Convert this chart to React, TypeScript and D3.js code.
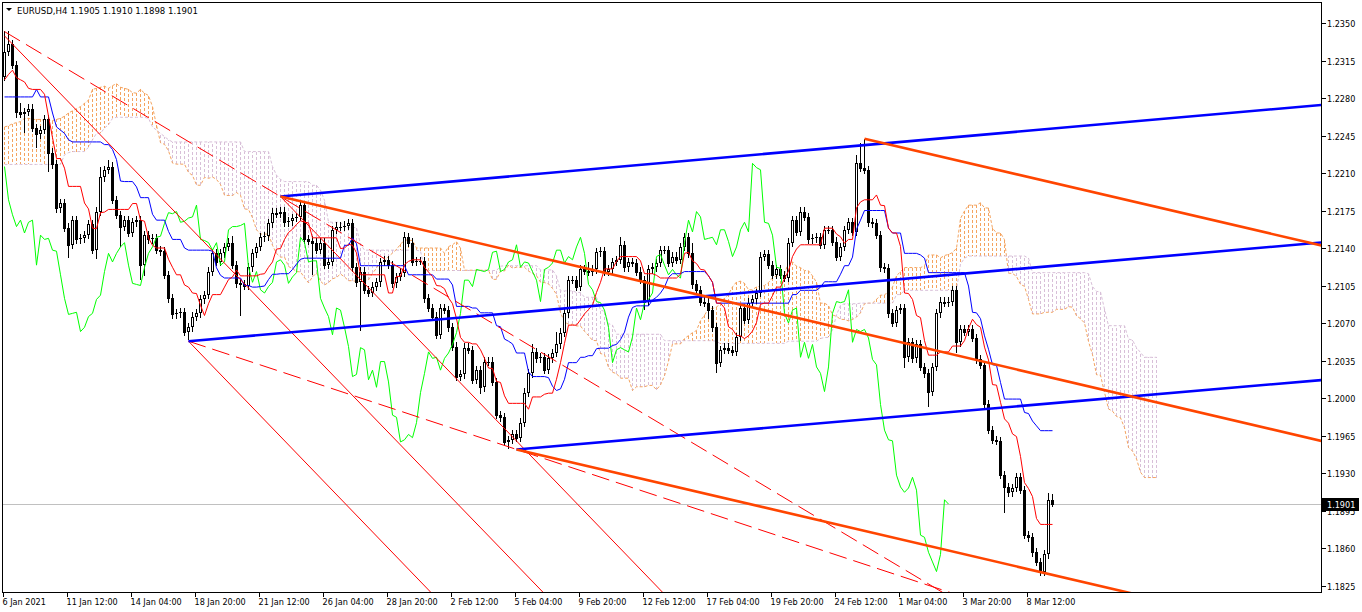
import React, { useEffect } from "react";
import * as d3 from "d3";

// ---------- DATA (prices in 1/10000) ----------
const firstOpen = 12300;
const closes = [
  12323,12330,12311,12267,12265,12267,12270,12252,12246,12250,
  12260,12229,12218,12177,12182,12159,12143,12166,12148,12149,
  12152,12162,12138,12174,12206,12213,12216,12185,12171,12160,
  12166,12154,12164,12166,12124,12152,12148,12149,12138,12137,
  12115,12093,12078,12079,12080,12062,12066,12076,12079,12092,
  12096,12118,12135,12127,12135,12141,12145,12124,12107,12106,
  12105,12122,12135,12141,12150,12151,12163,12173,12172,12174,
  12164,12165,12168,12169,12180,12148,12147,12145,12138,12145,
  12124,12127,12157,12160,12160,12161,12163,12122,12108,12118,
  12101,12098,12104,12108,12127,12129,12124,12107,12113,12117,
  12150,12145,12127,12128,12128,12093,12084,12076,12059,12084,
  12082,12066,12048,12020,12022,12047,12045,12017,12026,12010,
  12034,12034,12015,11984,11982,11959,11961,11966,11963,11977,
  12005,12023,12043,12037,12038,12026,12037,12042,12050,12061,
  12079,12110,12110,12104,12120,12119,12118,12120,12136,12137,
  12118,12120,12127,12129,12143,12122,12127,12126,12118,12110,
  12090,12120,12122,12126,12138,12138,12126,12132,12129,12141,
  12150,12135,12106,12101,12090,12089,12082,12066,12033,12045,
  12047,12045,12043,12057,12084,12073,12089,12092,12098,12132,
  12134,12124,12115,12120,12115,12112,12145,12166,12155,12174,
  12169,12148,12149,12150,12143,12157,12157,12146,12132,12141,
  12157,12164,12155,12219,12215,12213,12164,12163,12152,12122,
  12121,12079,12070,12082,12084,12038,12052,12037,12050,12029,
  12023,12006,12029,12079,12090,12089,12090,12101,12052,12064,
  12062,12064,12056,12036,12031,11994,11970,11961,11960,11928,
  11917,11912,11916,11926,11914,11872,11870,11856,11847,11838,
  11854,11905,11901,
];
const upperWick = [
  20,13,4,4,8,4,4,4,4,4, 4,4,4,4,4,4,4,4,4,4, 4,4,4,4,10,4,6,4,4,4,
  4,4,4,4,4,4,4,4,4,4, 4,4,4,4,4,4,4,4,4,4, 4,4,4,4,4,4,4,6,4,4,
  4,4,4,4,4,4,4,4,4,4, 4,4,4,4,4,4,4,4,4,4, 4,4,4,4,4,4,4,4,4,4,
  4,4,4,4,4,4,4,4,4,4, 5,4,4,4,4,4,4,4,4,4, 4,4,4,4,4,4,4,4,4,4,
  4,4,4,4,4,4,4,4,4,4, 4,4,7,4,4,4,4,4,12,4, 4,4,4,4,4,4,8,4,4,4,
  4,4,4,4,7,4,4,4,4,4, 4,4,4,4,4,4,4,4,4,4, 4,4,10,4,4,4,4,4,4,4,
  4,4,4,4,4,4,4,4,4,4, 4,4,4,4,4,4,4,4,4,4, 4,4,4,4,4,4,4,4,4,4,
  4,4,4,8,19,27,4,4,4,4, 4,4,4,4,4,4,4,4,4,4, 4,4,4,4,4,4,4,4,4,4,
  4,4,4,4,4,4,4,4,4,4, 4,4,4,4,4,4,4,4,4,4, 4,6,5,
];
const lowerWick = [
  4,4,4,6,4,18,4,4,13,4, 4,18,4,4,4,4,12,4,4,4, 4,4,4,8,4,4,4,4,4,19,
  4,4,4,4,14,10,4,4,4,4, 4,4,4,4,4,4,8,4,4,4, 4,4,4,4,4,4,4,4,4,29,
  4,4,4,4,4,4,4,4,4,4, 4,4,4,4,4,4,4,30,4,4, 4,4,4,4,4,4,4,4,4,45,
  4,4,4,4,4,4,4,4,4,4, 4,4,4,4,4,4,4,4,4,4, 4,4,4,4,4,4,4,4,4,6,
  4,4,4,4,4,4,7,4,4,4, 4,4,4,4,4,4,4,4,4,4, 4,4,4,4,4,4,4,4,4,4,
  4,4,4,4,4,4,4,4,4,4, 8,4,4,4,4,4,4,4,4,4, 4,4,4,4,4,4,8,4,10,4,
  4,4,4,4,4,4,4,4,4,4, 4,4,4,4,4,4,4,4,4,4, 4,4,4,4,4,4,4,4,4,4,
  4,4,4,4,4,4,4,4,4,4, 4,4,4,4,4,10,4,4,4,4, 4,14,4,4,4,4,4,4,10,4,
  4,4,4,4,4,4,4,4,4,4, 24,4,4,4,4,4,4,4,4,4, 4,4,3,
];
// Ichimoku values before the visible history is long enough
const tenkanEarly = [12297,12302,12306,12299,12297,12295,12289,12288];
const kijunEarly = [12281,12281,12281,12281,12281,12281,12281,12281,12288,12281,12281,12281,
  12266,12253,12250,12247,12241,12239,12239,12239,12239,12239,12239,12239,12239];
const spanAEarly = [12253,12254,12256,12257,12258,12261,12261,12260,12260,12260,12259,12259,12259,
  12260,12261,12263,12266,12268,12270,12272,12275,12278,12288,12289,12290,12291];
const spanBEarly = [
  12218,12218,12218,12218,12218,12218,12218,12218,12218,12218,12218,12218,12218,12218,12218,
  12227,12229,12230,12230,12230,12230,12234,12241,12247,12247,12252,12255,12261,
  12262,12262,12262,12262,12262,12262,12262,12262,12261,12253,12250,12247,12244,12241,
  12239,12239,12239,12239,12239,12239,12239,12239,12239,12239,12239,12239,12239,12239,12239,12239,12239,12239,
  12230,12230,12230,12230,12230,12230,12230,12216,12208,12204,
  12202,12202,12202,12202,12202,12202,12202,
];
const timeLabels = ["6 Jan 2021","11 Jan 12:00","14 Jan 04:00","18 Jan 20:00","21 Jan 12:00","26 Jan 04:00",
  "28 Jan 20:00","2 Feb 12:00","5 Feb 04:00","9 Feb 20:00","12 Feb 12:00","17 Feb 04:00","19 Feb 20:00",
  "24 Feb 12:00","1 Mar 04:00","3 Mar 20:00","8 Mar 12:00"];
const timeLabelBars = [0,16,32,48,64,80,96,112,128,144,160,176,192,208,224,240,256];
const priceTicks = [1.2350,1.2315,1.2280,1.2245,1.2210,1.2175,1.2140,1.2105,1.2070,1.2035,1.2000,
  1.1965,1.1930,1.1895,1.1860,1.1825];
const lastPrice = 1.1901;
const symbol = "EURUSD,H4";
const ohlcText = "1.1905 1.1910 1.1898 1.1901";
// drawn objects: [bar1, price1, bar2, price2], rays to the right
const blueChannel = [[69,12188,215,12236],[46,12053,215,12108],[128,11952,215,11980]];
const orangeChannel = [[215,12242,262,12201],[69,12188,215,12060],[128,11952,215,11876]];
const redSolid = [[0,12338,84,12014],[46,12053,84,11906],[69,12188,84,12130]];
const redDashed = [[0,12342,69,12188],[46,12053,128,11952]];

// ---------- LAYOUT ----------
const W = 1362, H = 612;
const L = 2, T = 2, R = 1321, B = 592;
const FONT = "Tahoma, 'DejaVu Sans Condensed', 'DejaVu Sans', sans-serif";

export default function App() {
  useEffect(() => { document.body.style.margin = "0"; }, []);
  const x = d3.scaleLinear().domain([0, 329]).range([4, 1320]);
  const y = d3.scaleLinear().domain([1.1825, 1.2350]).range([585.5, 23]);
  const P = (v: number) => v / 10000;
  const N = closes.length;
  const opens = closes.map((c, i) => (i === 0 ? firstOpen : closes[i - 1]));
  const highs = closes.map((c, i) => Math.max(opens[i], c) + upperWick[i]);
  const lows = closes.map((c, i) => Math.min(opens[i], c) - lowerWick[i]);
  const mid = (a: number, b: number) => {
    const lo = Math.max(0, a);
    return (d3.max(highs.slice(lo, b + 1))! + d3.min(lows.slice(lo, b + 1))!) / 2;
  };
  const tenkan = closes.map((_, i) => (i < tenkanEarly.length ? tenkanEarly[i] : mid(i - 8, i)));
  const kijun = closes.map((_, i) => (i < kijunEarly.length ? kijunEarly[i] : mid(i - 25, i)));
  const cloudIdx = d3.range(0, N + 26);
  const spanA = cloudIdx.map((k) => (k < spanAEarly.length ? spanAEarly[k] : (tenkan[k - 26] + kijun[k - 26]) / 2));
  const spanB = cloudIdx.map((k) => (k < spanBEarly.length ? spanBEarly[k] : mid(k - 26 - 51, k - 26)));
  const chikou = d3.range(0, N - 26).map((k) => closes[k + 26]);

  const cx = (i: number) => Math.round(x(i)) + 0.5;
  const cy = (v: number) => Math.round(y(P(v)));
  const line = d3.line<number>().x((_, i) => cx(i)).y((v) => y(P(v)));

  const ray = (o: number[]) => {
    const x1 = x(o[0]) + 0.5, y1 = y(P(o[1])), x2 = x(o[2]) + 0.5, y2 = y(P(o[3]));
    const s = (y2 - y1) / (x2 - x1);
    return { x1, y1, x2: R + 5, y2: y1 + s * (R + 5 - x1) };
  };
  const boxY = Math.round(y(lastPrice)) - 6;

  return (
    <svg width={W} height={H} style={{ position: "absolute", left: 0, top: 0, background: "#fff" }}
      fontFamily={FONT}>
      <defs>
        <clipPath id="plot"><rect x={L} y={T} width={R - L} height={B - T} /></clipPath>
        <clipPath id="hidden"><rect x={R} y={boxY + 13} width={45} height={10} /></clipPath>
      </defs>
      <rect x={0} y={0} width={W} height={H} fill="#fff" />
      <g clipPath="url(#plot)">
        {/* current price line */}
        <line x1={L} x2={R} y1={Math.round(y(lastPrice)) + 0.5} y2={Math.round(y(lastPrice)) + 0.5}
          stroke="#C0C0C0" strokeWidth={1} shapeRendering="crispEdges" />
        {/* cloud hatch */}
        <g shapeRendering="crispEdges">
          {cloudIdx.map((k) => (
            <line key={"c" + k} x1={cx(k)} x2={cx(k)} y1={cy(spanA[k])} y2={cy(spanB[k])}
              stroke={spanA[k] >= spanB[k] ? "#F4A460" : "#D8BFD8"} strokeWidth={1} strokeDasharray="3,2" />
          ))}
        </g>
        <path d={line(spanA) || ""} fill="none" stroke="#F4A460" strokeWidth={1} strokeDasharray="3,2" />
        <path d={line(spanB) || ""} fill="none" stroke="#D8BFD8" strokeWidth={1} strokeDasharray="3,2" />
        {/* candles */}
        <g shapeRendering="crispEdges">
          {closes.map((c, i) => {
            const o = opens[i];
            const X = cx(i);
            const top = cy(Math.max(o, c)), bot = cy(Math.min(o, c));
            return (
              <g key={"k" + i}>
                <line x1={X} x2={X} y1={cy(highs[i])} y2={cy(lows[i])} stroke="#000" strokeWidth={1} />
                {c >= o ? (
                  <rect x={X - 1} y={top + 0.5} width={2} height={Math.max(0, bot - top - 1) + 0.0001}
                    fill="#fff" stroke="#000" strokeWidth={1} />
                ) : (
                  <rect x={X - 1.5} y={top} width={3} height={Math.max(1, bot - top + 1)} fill="#000" />
                )}
              </g>
            );
          })}
        </g>
        {/* ichimoku lines */}
        <path d={line(chikou) || ""} fill="none" stroke="#00FF00" strokeWidth={1} />
        <path d={line(kijun) || ""} fill="none" stroke="#0000FF" strokeWidth={1} />
        <path d={line(tenkan) || ""} fill="none" stroke="#FF0000" strokeWidth={1} />
        {/* drawn objects */}
        {redSolid.map((o, i) => { const r = ray(o); return <line key={"rs" + i} {...r} stroke="#FF0000" strokeWidth={1} />; })}
        {redDashed.map((o, i) => { const r = ray(o); return <line key={"rd" + i} {...r} stroke="#FF0000" strokeWidth={1} strokeDasharray="18,7" />; })}
        {blueChannel.map((o, i) => { const r = ray(o); return <line key={"b" + i} {...r} stroke="#0000FF" strokeWidth={2.6} />; })}
        {orangeChannel.map((o, i) => { const r = ray(o); return <line key={"or" + i} {...r} stroke="#FF4500" strokeWidth={2.6} />; })}
      </g>
      {/* frame */}
      <rect x={L + 0.5} y={T + 0.5} width={R - L} height={B - T} fill="none" stroke="#000" strokeWidth={1}
        shapeRendering="crispEdges" />
      {/* price axis */}
      <g fontSize={9} fill="#000" shapeRendering="crispEdges">
        {priceTicks.map((p) => {
          const hidden = Math.abs(p - lastPrice) < 0.001;
          return (
            <g key={"p" + p}>
              <line x1={R + 1} x2={R + 5} y1={Math.round(y(p)) + 0.5} y2={Math.round(y(p)) + 0.5} stroke="#000" />
              <text x={R + 6} y={Math.round(y(p)) + 4} clipPath={hidden ? "url(#hidden)" : undefined}>{p.toFixed(4)}</text>
            </g>
          );
        })}
        <rect x={R + 1} y={boxY} width={37} height={13} fill="#000" />
        <text x={R + 6} y={Math.round(y(lastPrice)) + 4} fill="#fff">{lastPrice.toFixed(4)}</text>
      </g>
      {/* time axis */}
      <g fontSize={9} fill="#000" shapeRendering="crispEdges">
        {timeLabels.map((t, i) => {
          const X = Math.round(x(timeLabelBars[i])) - 0.5;
          return (
            <g key={"t" + i}>
              <line x1={X} x2={X} y1={B + 1} y2={B + 5} stroke="#000" />
              <text x={X - 1} y={B + 13}>{t}</text>
            </g>
          );
        })}
      </g>
      {/* header */}
      <path d="M6,8 L12,8 L9,11 Z" fill="#000" />
      <text x={17} y={14} fontSize={9.5} fill="#000">{symbol + "  " + ohlcText}</text>
    </svg>
  );
}
